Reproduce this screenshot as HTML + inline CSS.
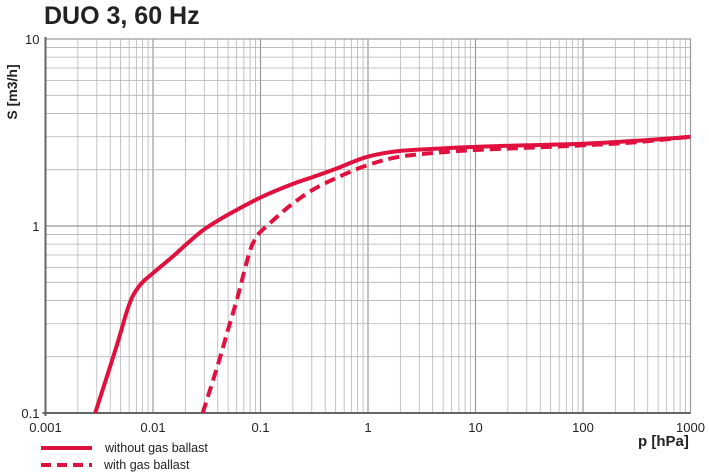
<!DOCTYPE html>
<html><head><meta charset="utf-8"><style>
body{margin:0;background:#fff;}
svg{display:block;font-family:"Liberation Sans",Arial,sans-serif;}
</style></head><body>
<svg id="c" width="709" height="473">
<text x="44" y="24" font-size="25" font-weight="bold" fill="#222">DUO 3, 60 Hz</text>
<text transform="translate(17,92) rotate(-90)" font-size="14" font-weight="bold" fill="#222" text-anchor="middle">S [m3/h]</text>
<text x="638" y="446" font-size="15" font-weight="bold" fill="#222">p [hPa]</text>
<g id="grid"></g><g id="ticks"></g><g id="series"></g>
<g>
<line x1="41" y1="448" x2="92" y2="448" stroke="#e0103f" stroke-width="4"/>
<text x="105" y="452" font-size="12.5" fill="#222">without gas ballast</text>
<line x1="41" y1="465" x2="92" y2="465" stroke="#e0103f" stroke-width="4" stroke-dasharray="10,6"/>
<text x="104" y="469" font-size="12.5" fill="#222">with gas ballast</text>
</g>
</svg>
<script>
const xTicks=[0.001,0.01,0.1,1,10,100,1000];
const xTickLabels=["0.001","0.01","0.1","1","10","100","1000"];
const yTicks=[0.1,1,10];
const yTickLabels=["0.1","1","10"];
const solidP=[0.0029,0.0045,0.006,0.0075,0.01,0.015,0.02,0.03,0.05,0.1,0.2,0.3,0.5,1,2,5,10,30,100,300,1000];
const solidS=[0.1,0.22,0.38,0.48,0.56,0.68,0.79,0.96,1.15,1.42,1.68,1.82,2.02,2.35,2.52,2.6,2.65,2.7,2.75,2.85,3.0];
const dashP=[0.029,0.04,0.05,0.06,0.07,0.08,0.09,0.1,0.15,0.2,0.3,0.5,1,2,5,10,30,100,300,1000];
const dashS=[0.1,0.18,0.28,0.4,0.56,0.74,0.86,0.93,1.15,1.32,1.55,1.8,2.12,2.35,2.48,2.55,2.62,2.7,2.8,3.0];
const X0=45.5,XD=107.5,Y0=226,YD=187;
const xs=p=>X0+(Math.log10(p)+3)*XD;
const ys=s=>Y0-Math.log10(s)*YD;
const NS="http://www.w3.org/2000/svg";
function mk(t,a,par){const e=document.createElementNS(NS,t);for(const k in a)e.setAttribute(k,a[k]);document.getElementById(par).appendChild(e);return e;}
const L=xs(0.001),R=xs(1000),T=ys(10),B=ys(0.1);
for(let d=-3;d<3;d++)for(let m=1;m<=9;m++){const x=xs(m*Math.pow(10,d));
 const e=mk('line',{x1:x,y1:T,x2:x,y2:B,stroke:m==1?'#999':'#b5b5b5','stroke-width':m==1?1.2:0.8},'grid');
 }
for(let d=-1;d<1;d++)for(let m=2;m<=9;m++){const y=ys(m*Math.pow(10,d));
 const e=mk('line',{x1:L,y1:y,x2:R,y2:y,stroke:'#b5b5b5','stroke-width':0.8},'grid');
 }
{const e=mk('line',{x1:L,y1:ys(1),x2:R,y2:ys(1),stroke:'#999','stroke-width':1.2},'grid');}
{const e=mk('rect',{x:L,y:T,width:R-L,height:B-T,fill:'none',stroke:'#999','stroke-width':1.2},'grid');}
{const e=mk('line',{x1:L,y1:T-2,x2:L,y2:B+3,stroke:'#666','stroke-width':2},'grid');}
{const e=mk('line',{x1:L-3,y1:B,x2:R,y2:B,stroke:'#666','stroke-width':2},'grid');}
xTicks.forEach((v,i)=>{const e=mk('text',{x:xs(v),y:432,'font-size':13,fill:'#222','text-anchor':'middle'},'ticks');e.textContent=xTickLabels[i];
 });
yTicks.forEach((v,i)=>{const e=mk('text',{x:L-6,y:ys(v)+5,'font-size':13,fill:'#222','text-anchor':'end'},'ticks');e.textContent=yTickLabels[i];
 });
function path(P,S){
 const pts=P.map((p,i)=>[xs(p),ys(S[i])]);
 let d='M'+pts[0][0].toFixed(1)+','+pts[0][1].toFixed(1);
 for(let i=0;i<pts.length-1;i++){
  const p0=pts[Math.max(0,i-1)],p1=pts[i],p2=pts[i+1],p3=pts[Math.min(pts.length-1,i+2)];
  const c1=[p1[0]+(p2[0]-p0[0])/6,p1[1]+(p2[1]-p0[1])/6];
  const c2=[p2[0]-(p3[0]-p1[0])/6,p2[1]-(p3[1]-p1[1])/6];
  d+=' C'+c1[0].toFixed(1)+','+c1[1].toFixed(1)+' '+c2[0].toFixed(1)+','+c2[1].toFixed(1)+' '+p2[0].toFixed(1)+','+p2[1].toFixed(1);
 }
 return d;}
{const e=mk('path',{d:path(solidP,solidS),fill:'none',stroke:'#e0103f','stroke-width':4,'stroke-linejoin':'round'},'series');
 }
{const e=mk('path',{d:path(dashP,dashS),fill:'none',stroke:'#e0103f','stroke-width':4,'stroke-dasharray':'11,6','stroke-linejoin':'round'},'series');
 }
</script>
</body></html>
